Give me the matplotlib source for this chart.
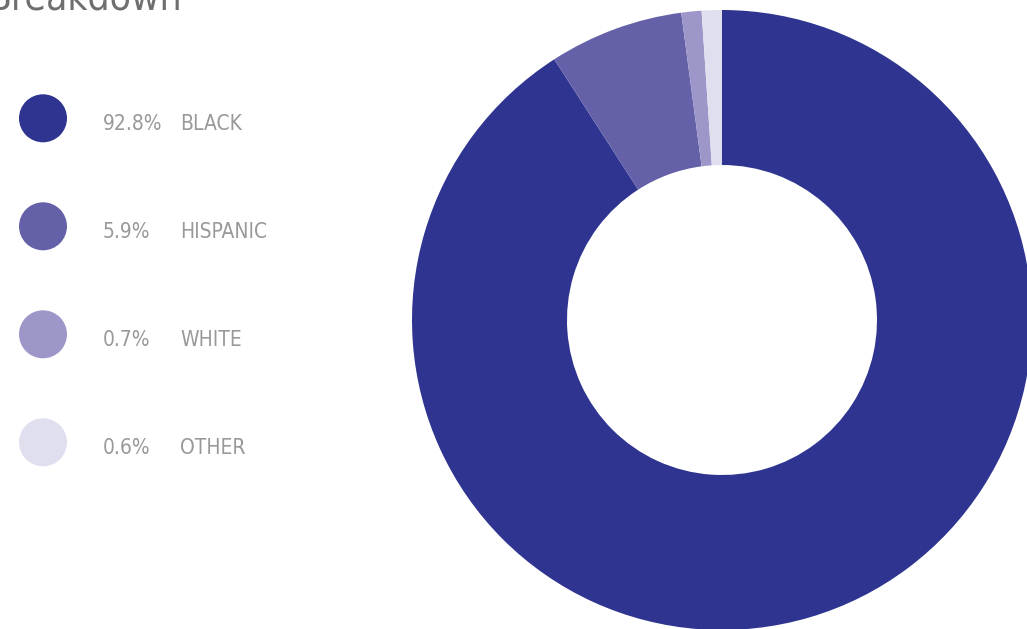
import matplotlib
matplotlib.use("Agg")
import matplotlib.pyplot as plt
from matplotlib.patches import Circle

categories = ["BLACK", "HISPANIC", "WHITE", "OTHER"]
pct_labels = ["92.8%", "5.9%", "0.7%", "0.6%"]
# slice sizes as drawn in the picture (percent of circle)
slice_values = [90.9, 7.0, 1.05, 1.05]
colors = ["#2e3490", "#6461a8", "#9d97c9", "#e0dfef"]
title = "Breakdown"

W, H = 1027, 629
fig = plt.figure(figsize=(W / 100, H / 100), dpi=100)
fam = ["DejaVu Sans"]

# donut
cx, cy, r = 722, 320, 310
ax = fig.add_axes([(cx - r) / W, (H - cy - r) / H, 2 * r / W, 2 * r / H])
ax.pie(slice_values, colors=colors, startangle=90, counterclock=False, radius=1,
       wedgeprops=dict(width=0.5, edgecolor="none"))
ax.set_xlim(-1, 1)
ax.set_ylim(-1, 1)
ax.set_aspect("equal")
ax.axis("off")

# overlay for legend/title in pixel coords
ov = fig.add_axes([0, 0, 1, 1])
ov.set_xlim(0, W)
ov.set_ylim(H, 0)
ov.axis("off")

circ_y0, base_y0, dy = 118.3, 129.5, 108
for i, (cat, pct, col) in enumerate(zip(categories, pct_labels, colors)):
    ov.add_patch(Circle((43, circ_y0 + i * dy), 24, color=col, lw=0))
    yb = base_y0 + i * dy
    ov.text(103, yb, pct, fontsize=15, color="#999999", va="baseline", ha="left",
            family=fam, fontstretch="condensed")
    ov.text(180, yb, cat, fontsize=15, color="#999999", va="baseline", ha="left",
            family=fam, fontstretch="condensed")

ov.text(182, 9, title, fontsize=28, color="#6f6f6f", ha="right", va="baseline",
        family=fam, fontstretch="condensed")

fig.savefig("out.png", dpi=100)
